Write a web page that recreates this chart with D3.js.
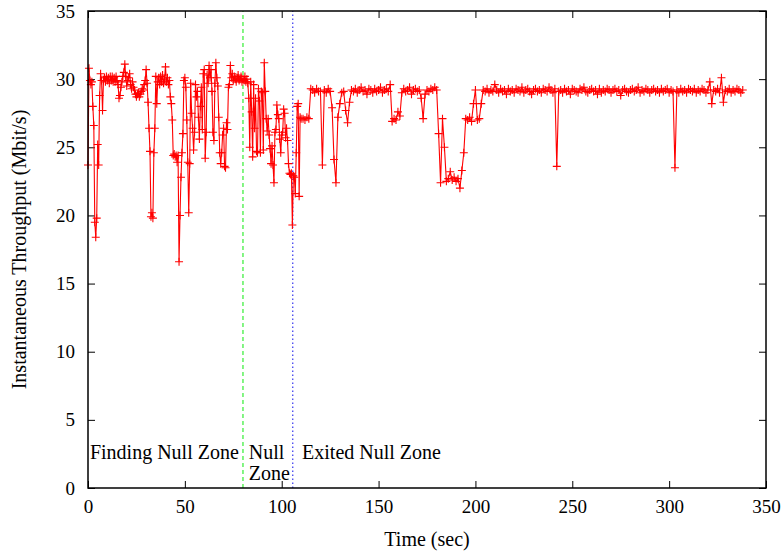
<!DOCTYPE html>
<html>
<head>
<meta charset="utf-8">
<script src="https://cdn.jsdelivr.net/npm/d3@7"></script>
<style>
  body { margin: 0; background: #fff; }
  text { font-family: "Liberation Serif", "Times New Roman", serif; }
</style>
</head>
<body>
<svg id="chart" width="783" height="551"></svg>
<script>
// throughput samples, first phase every 0.5 s (t = 0 .. 110)
var burstStep = 0.5;
var burstMbps = [
  23.7, 30.8, 29.9, 29.6, 29.8, 28.0, 26.6, 19.5, 18.4, 19.8,
  25.2, 23.7, 28.8, 30.4, 29.9, 27.7, 29.9, 30.1, 29.8, 30.2,
  29.9, 30.1, 29.7, 30.2, 29.9, 30.2, 29.8, 30.1, 29.8, 30.2,
  29.9, 29.6, 28.6, 28.8, 29.4, 29.8, 30.2, 30.5, 31.1, 30.2,
  29.5, 29.9, 30.1, 30.4, 29.6, 29.3, 29.8, 29.4, 29.2, 28.9,
  28.7, 28.9, 29.0, 28.7, 28.9, 29.1, 29.3, 29.2, 29.6, 29.9,
  30.7, 29.7, 28.3, 26.4, 24.7, 19.9, 20.2, 19.8, 24.6, 26.4,
  30.2, 28.2, 29.8, 30.1, 29.6, 30.2, 29.8, 30.3, 29.7, 30.0,
  30.9, 29.8, 30.1, 29.6, 29.9, 28.7, 28.2, 27.0, 24.4, 24.5,
  24.3, 24.4, 23.9, 24.4, 16.6, 20.0, 22.8, 24.6, 26.0, 29.9,
  30.1, 29.4, 27.0, 23.9, 20.2, 23.8, 29.7, 27.5, 26.4, 24.8,
  26.1, 29.6, 28.7, 29.1, 27.2, 25.6, 28.0, 29.4, 26.3, 30.4,
  30.7, 24.2, 26.1, 30.3, 29.7, 31.0, 30.1, 30.7, 29.1, 26.1,
  25.5, 29.7, 31.2, 30.1, 29.5, 27.2, 24.6, 23.8, 24.6, 25.9,
  26.4, 23.6, 23.5, 26.8, 26.3, 29.4, 29.6, 31.0, 30.1, 30.4,
  29.9, 30.2, 30.0, 29.8, 30.1, 30.3, 29.9, 30.0, 30.2, 29.8,
  30.0, 29.9, 30.2, 29.8, 30.0, 29.7, 28.6, 25.0, 29.8, 27.6,
  24.3, 29.6, 26.4, 28.6, 24.7, 24.6, 29.3, 28.4, 24.6, 29.1,
  29.0, 24.8, 31.2, 29.1, 27.1, 26.2, 27.1, 25.9, 24.9, 23.8,
  25.1, 23.7, 22.4, 26.1, 26.3, 28.1, 27.4, 27.1, 25.6, 24.6,
  25.9, 26.1, 27.8, 27.5, 25.7, 26.4, 25.5, 23.8, 23.1, 23.0,
  23.1, 19.3, 22.9, 22.8, 21.6, 24.6, 28.0, 28.2, 21.4, 27.2,
  27.1
];

// second phase, one sample per second from t = 111
var steadyStart = 111;
var steadyMbps = [
  27.1, 27.0, 27.2, 27.1, 29.3, 29.2, 29.0, 29.3, 29.1, 29.1,
  23.7, 29.2, 29.0, 29.3, 29.1, 27.9, 24.1, 22.4, 27.2, 28.2,
  29.0, 29.1, 27.7, 26.8, 28.3, 29.2, 29.1, 29.3, 29.0, 29.2,
  29.4, 29.1, 29.2, 28.9, 29.3, 29.2, 29.0, 29.3, 29.1, 29.2,
  29.4, 29.0, 29.2, 29.3, 29.1, 29.6, 26.9, 27.1, 27.0, 27.6,
  27.3, 29.0, 29.3, 29.1, 29.2, 29.4, 28.9, 29.2, 29.3, 29.1,
  29.2, 28.6, 27.1, 28.9, 29.2, 29.1, 29.3, 29.2, 29.4, 29.2,
  26.0, 22.4, 27.1, 25.0, 22.5, 22.7, 23.2, 22.6, 22.8, 22.5,
  22.7, 22.0, 23.3, 24.6, 27.1, 27.0, 27.2, 26.9, 28.2, 29.2,
  27.0, 27.1, 28.2, 29.2, 29.1, 29.3, 29.0, 29.2, 29.1, 29.6,
  29.2, 29.0, 29.3, 29.1, 29.2, 28.9, 29.3, 29.1, 29.2, 29.0,
  29.3, 29.2, 29.1, 29.4, 29.0, 29.2, 29.3, 29.1, 28.9, 29.2,
  29.3, 29.1, 29.2, 29.0, 29.3, 29.2, 29.1, 29.4, 29.2, 29.0,
  29.3, 23.6, 29.1, 29.2, 29.0, 29.3, 29.1, 29.2, 28.9, 29.3,
  29.2, 29.1, 29.0, 29.3, 29.2, 29.4, 29.1, 29.0, 29.2, 29.3,
  29.1, 29.2, 28.9, 29.3, 29.0, 29.2, 29.1, 29.3, 29.2, 29.0,
  29.2, 29.3, 29.1, 29.2, 28.8, 29.2, 29.3, 29.1, 29.0, 29.2,
  29.3, 29.1, 29.2, 29.4, 29.0, 29.2, 29.1, 29.3, 29.2, 29.0,
  29.2, 29.3, 29.1, 29.2, 29.0, 29.3, 29.1, 29.2, 29.3, 29.0,
  29.2, 29.1, 23.5, 29.2, 29.0, 29.3, 29.1, 29.2, 29.0, 29.3,
  29.2, 29.1, 29.3, 29.0, 29.2, 29.1, 29.3, 29.2, 29.0, 29.2,
  29.8, 28.2, 29.2, 29.1, 29.3, 29.0, 30.1, 28.3, 29.2, 29.1,
  29.3, 29.0, 29.2, 29.1, 29.3, 29.2, 29.0, 29.2
];

var xTicks = [0, 50, 100, 150, 200, 250, 300, 350];
var yTicks = [0, 5, 10, 15, 20, 25, 30, 35];

// zone boundaries (sec) and labels
var enterNullZone = 80;
var exitNullZone = 105.7;
var zoneLabels = [["Finding Null Zone"], ["Null", "Zone"], ["Exited Null Zone"]];
var zoneLabelX = [1, 83, 110.5];

var width = 783, height = 551;
var margin = {top: 11, right: 17, bottom: 63, left: 88};

var svg = d3.select("#chart");

var x = d3.scaleLinear().domain([0, 350]).range([margin.left, width - margin.right]);
var y = d3.scaleLinear().domain([0, 35]).range([height - margin.bottom, margin.top]);

// build points
var points = [];
burstMbps.forEach(function(v, i) { points.push([i * burstStep, v]); });
steadyMbps.forEach(function(v, i) { points.push([steadyStart + i, v]); });

// axes with inward ticks on all four sides
var tickLen = 7;
svg.append("g")
    .attr("transform", "translate(0," + y(0) + ")")
    .call(d3.axisBottom(x).tickValues(xTicks).tickSize(-tickLen).tickPadding(12))
    .call(function(g) { g.select(".domain").remove(); });
svg.append("g")
    .attr("transform", "translate(0," + y(35) + ")")
    .call(d3.axisTop(x).tickValues(xTicks).tickSize(-tickLen).tickFormat(""))
    .call(function(g) { g.select(".domain").remove(); });
svg.append("g")
    .attr("transform", "translate(" + x(0) + ",0)")
    .call(d3.axisLeft(y).tickValues(yTicks).tickSize(-tickLen).tickPadding(13))
    .call(function(g) { g.select(".domain").remove(); });
svg.append("g")
    .attr("transform", "translate(" + x(350) + ",0)")
    .call(d3.axisRight(y).tickValues(yTicks).tickSize(-tickLen).tickFormat(""))
    .call(function(g) { g.select(".domain").remove(); });

svg.selectAll(".tick line").attr("stroke", "#000").attr("stroke-width", 1);
svg.selectAll(".tick text")
    .attr("fill", "#000")
    .style("font-size", "19px")
    .style("font-family", "'Liberation Serif', serif");

// zone separators
svg.append("line")
    .attr("x1", x(enterNullZone)).attr("x2", x(enterNullZone))
    .attr("y1", y(0)).attr("y2", y(35))
    .attr("stroke", "#33ee33")
    .attr("stroke-width", 1.2)
    .attr("stroke-dasharray", "4,3");
svg.append("line")
    .attr("x1", x(exitNullZone)).attr("x2", x(exitNullZone))
    .attr("y1", y(0)).attr("y2", y(35))
    .attr("stroke", "#3333ee")
    .attr("stroke-width", 1.2)
    .attr("stroke-dasharray", "1.5,2.5");

// the series
var line = d3.line()
    .x(function(d) { return x(d[0]); })
    .y(function(d) { return y(d[1]); });

svg.append("path")
    .datum(points)
    .attr("d", line)
    .attr("fill", "none")
    .attr("stroke", "#ff0000")
    .attr("stroke-width", 1.1);

svg.append("g")
    .selectAll("path")
    .data(points)
    .enter()
    .append("path")
    .attr("transform", function(d) { return "translate(" + x(d[0]) + "," + y(d[1]) + ")"; })
    .attr("d", "M-4,0H4M0,-4V4")
    .attr("stroke", "#ff0000")
    .attr("stroke-width", 1.1);

// zone labels, one text per line
zoneLabels.forEach(function(lines, i) {
    lines.forEach(function(s, j) {
        svg.append("text")
            .attr("x", x(zoneLabelX[i]))
            .attr("y", y(2.55) - 1 + j * 21)
            .attr("dominant-baseline", "central")
            .style("font-size", "20px")
            .attr("fill", "#000")
            .text(s);
    });
});

// frame
svg.append("rect")
    .attr("x", x(0)).attr("y", y(35))
    .attr("width", x(350) - x(0))
    .attr("height", y(0) - y(35))
    .attr("fill", "none")
    .attr("stroke", "#000")
    .attr("stroke-width", 1.5);

// axis titles
svg.append("text")
    .attr("x", (x(0) + x(350)) / 2)
    .attr("y", 539)
    .attr("text-anchor", "middle")
    .attr("dominant-baseline", "central")
    .style("font-size", "20px")
    .text("Time (sec)");

svg.append("text")
    .attr("transform", "translate(19," + (y(0) + y(35)) / 2 + ") rotate(-90)")
    .attr("text-anchor", "middle")
    .attr("dominant-baseline", "central")
    .style("font-size", "20px")
    .text("Instantaneous Throughput (Mbit/s)");
</script>
</body>
</html>
